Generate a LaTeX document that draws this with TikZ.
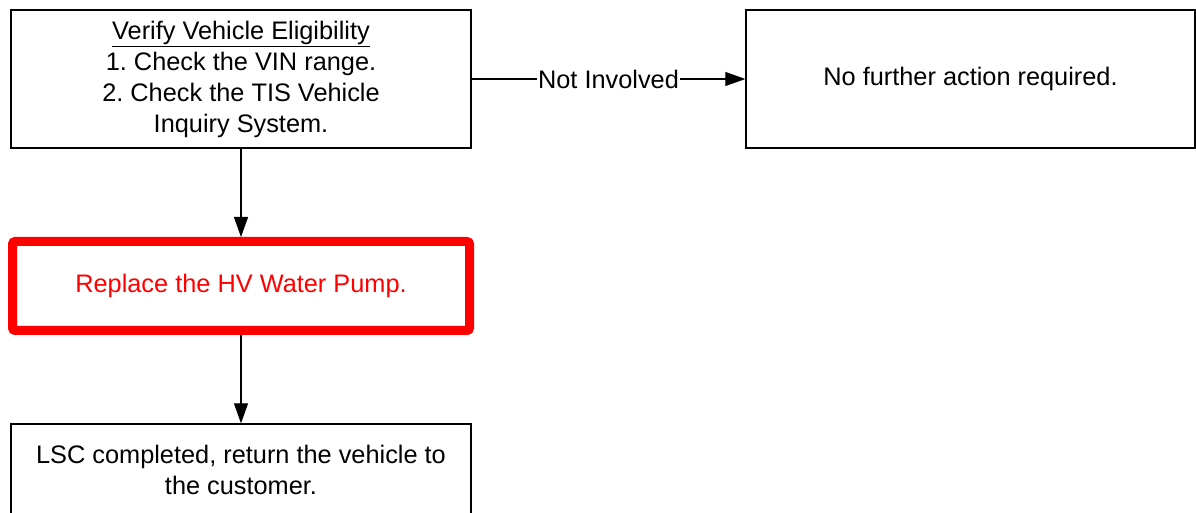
\documentclass[tikz,border=0pt]{standalone}
\usepackage{fontspec}
\setmainfont{Liberation Sans}
\usetikzlibrary{arrows.meta}
\frenchspacing
\begin{document}
\begin{tikzpicture}[x=0.75pt,y=-0.75pt,
  box/.style={draw=black,line width=1pt,rectangle,align=center,font=\fontsize{19}{23.25}\selectfont,inner sep=0pt},
  redbox/.style={draw=red,line width=6.75pt,rounded corners=2pt,rectangle,align=center,text=red,font=\fontsize{19}{23.25}\selectfont,inner sep=0pt},
  conn/.style={line width=0.8pt,-{Triangle[length=15pt,width=10.5pt]}},
  lbl/.style={fill=white,inner sep=1pt,font=\fontsize{19}{21}\selectfont}]
\useasboundingbox (0,0) rectangle (1196,513);
\node[box,minimum width=345pt,minimum height=103.5pt] (verify) at (241,79)
  {\underline{Verify Vehicle Eligibility}\\1. Check the VIN range.\\2. Check the TIS Vehicle\\Inquiry System.};
\node[box,minimum width=336.75pt,minimum height=103.5pt] (noact) at (970.5,79)
  {No further action required.};
\node[redbox,minimum width=342.75pt,minimum height=66.75pt] (replace) at (241,286)
  {Replace the HV Water Pump.};
\node[box,minimum width=345pt,minimum height=69pt] (lsc) at (241,470)
  {LSC completed, return the vehicle to\\the customer.};
\draw[conn] (verify.east) -- node[lbl] {Not Involved} (noact.west);
\draw[conn] (verify.south) -- (replace.north);
\draw[conn] (replace.south) -- (lsc.north);
\end{tikzpicture}
\end{document}
